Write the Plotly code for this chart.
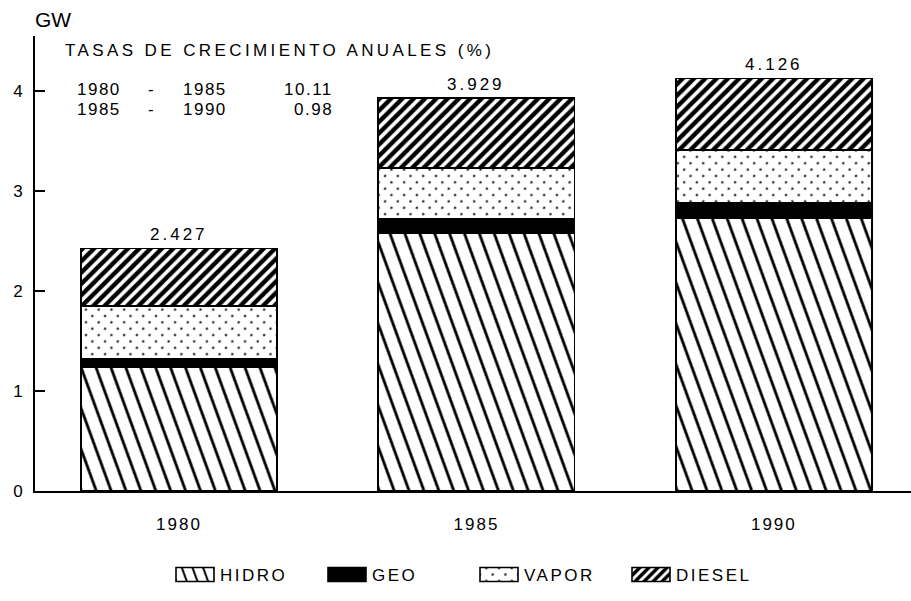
import plotly.graph_objects as go

# ---- data ----
years = ["1980", "1985", "1990"]
hidro = [1.24, 2.58, 2.73]
geo = [0.08, 0.14, 0.15]
vapor = [0.53, 0.51, 0.53]
diesel = [0.577, 0.699, 0.716]
total_labels = ["2.427", "3.929", "4.126"]
series_names = ["HIDRO", "GEO", "VAPOR", "DIESEL"]
period_start = ["1980", "1985"]
period_end = ["1985", "1990"]
growth_rates = ["10.11", "0.98"]
growth_title = "TASAS DE CRECIMIENTO ANUALES (%)"
y_ticks = [0, 1, 2, 3, 4]
unit_label = "GW"

# ---- layout geometry (pixels) ----
W, H = 911, 601
L, R, T, B = 35, 911, 36, 491
FONT = "Liberation Sans, Arial, sans-serif"


def px(x):
    return (x - L) / (R - L)


def py(y):
    return (B - y) / (B - T)


def sp(text, ls):
    return '<span style="letter-spacing:%spx">%s</span>' % (ls, text)


styles = {
    "HIDRO": dict(uid="hidro", color="white",
                  pattern=dict(shape="\\", size=14, solidity=0.2, fgcolor="black",
                               bgcolor="white", fgopacity=1)),
    "GEO": dict(uid="geo", color="black", pattern=None),
    "VAPOR": dict(uid="vapor", color="white",
                  pattern=dict(shape=".", size=9, solidity=0.05, fgcolor="black",
                               bgcolor="white", fgopacity=1)),
    "DIESEL": dict(uid="diesel", color="white",
                   pattern=dict(shape="/", size=8, solidity=0.55, fgcolor="black",
                                bgcolor="white", fgopacity=1)),
}
values = {"HIDRO": hidro, "GEO": geo, "VAPOR": vapor, "DIESEL": diesel}

fig = go.Figure()
for name in series_names:
    st = styles[name]
    marker = dict(color=st["color"], line=dict(color="black", width=1.6))
    if st["pattern"]:
        marker["pattern"] = st["pattern"]
    fig.add_trace(go.Bar(
        x=years, y=values[name], name=sp(name, 2.5), uid=st["uid"],
        marker=marker, width=0.66, hoverinfo="skip",
    ))

totals = [h + g + v + d for h, g, v, d in zip(hidro, geo, vapor, diesel)]

annotations = []
for i, (tot, lab) in enumerate(zip(totals, total_labels)):
    annotations.append(dict(x=i, y=tot, xref="x", yref="y", text=sp(lab, 3),
                            showarrow=False, yanchor="bottom", yshift=2,
                            font=dict(size=17)))

annotations.append(dict(x=px(33), y=py(20), xref="paper", yref="paper", text=unit_label,
                        showarrow=False, xanchor="left", yanchor="middle", font=dict(size=21)))
annotations.append(dict(x=px(63), y=py(50), xref="paper", yref="paper", text=sp(growth_title, 3.4),
                        showarrow=False, xanchor="left", yanchor="middle", font=dict(size=17)))
row_y = [89, 109]
for s, e, r, yy in zip(period_start, period_end, growth_rates, row_y):
    annotations.append(dict(x=px(75), y=py(yy), xref="paper", yref="paper", text=sp(s, 1.5),
                            showarrow=False, xanchor="left", yanchor="middle", font=dict(size=17)))
    annotations.append(dict(x=px(151), y=py(yy), xref="paper", yref="paper", text="-",
                            showarrow=False, xanchor="center", yanchor="middle", font=dict(size=17)))
    annotations.append(dict(x=px(181), y=py(yy), xref="paper", yref="paper", text=sp(e, 1.5),
                            showarrow=False, xanchor="left", yanchor="middle", font=dict(size=17)))
    annotations.append(dict(x=px(335), y=py(yy), xref="paper", yref="paper", text=sp(r, 1.5),
                            showarrow=False, xanchor="right", yanchor="middle", font=dict(size=17)))

fig.update_layout(
    width=W, height=H,
    margin=dict(l=L, r=W - R, t=T, b=H - B, pad=0, autoexpand=False),
    paper_bgcolor="white", plot_bgcolor="white",
    font=dict(family=FONT, size=17, color="black"),
    barmode="stack",
    showlegend=True,
    legend=dict(orientation="h", x=px(474), xanchor="center", y=py(575), yanchor="middle",
                itemwidth=40, entrywidth=97, entrywidthmode="pixels",
                font=dict(size=17), traceorder="normal", bgcolor="rgba(0,0,0,0)"),
    annotations=annotations,
    xaxis=dict(type="category", range=[-0.484, 2.461], showline=True, linecolor="black",
               linewidth=1.6, ticks="", showgrid=False, zeroline=False, automargin=False,
               tickvals=years, ticktext=[sp(y, 2) for y in years],
               ticklabelstandoff=17, tickfont=dict(size=17)),
    yaxis=dict(range=[0, (B - T) / 100.0], showline=True, linecolor="black", linewidth=1.6,
               ticks="inside", ticklen=10, tickwidth=1.6, tickcolor="black", automargin=False,
               tickvals=y_ticks, showgrid=False, zeroline=False,
               ticklabelstandoff=7, tickfont=dict(size=17)),
)

post = """
document.body.style.margin = '0';
document.body.style.padding = '0';
var gd = document.getElementById('{plot_id}');
function fix(){
  gd.querySelectorAll('pattern').forEach(function(p){
    var id = p.id || '';
    if (id.indexOf('hidro') >= 0) p.setAttribute('patternTransform', 'rotate(25)');
    if (id.indexOf('vapor') >= 0) p.setAttribute('patternTransform', 'rotate(45)');
  });
  gd.querySelectorAll('g.legendpoints path').forEach(function(p){
    p.setAttribute('d', 'M19,7H-19V-7H19Z');
  });
}
fix();
gd.on('plotly_afterplot', fix);
setTimeout(fix, 50);
"""

fig.write_html("out.html", post_script=post, config={"displayModeBar": False})
